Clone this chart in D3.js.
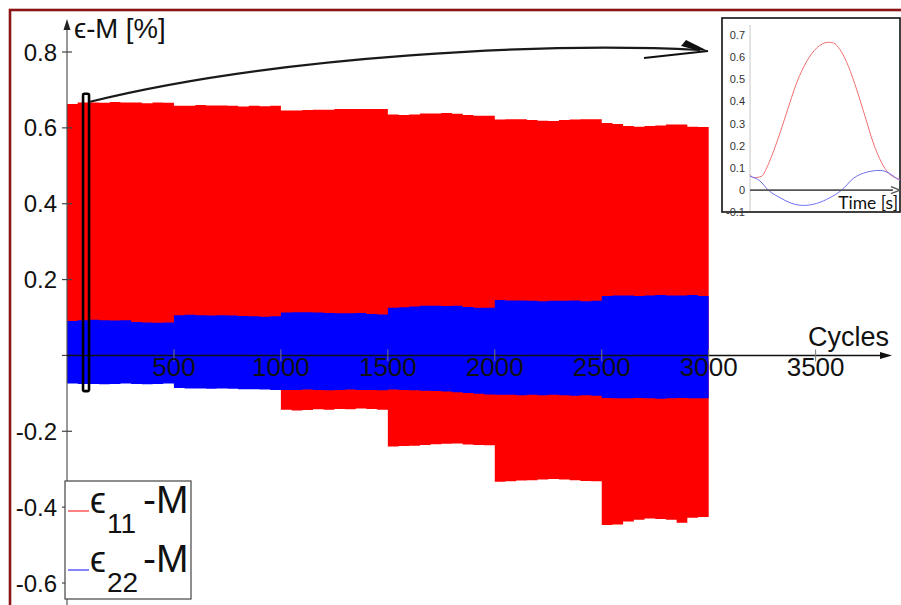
<!DOCTYPE html>
<html><head><meta charset="utf-8">
<script src="https://cdn.jsdelivr.net/npm/d3@7"></script>
<style>
html,body{margin:0;padding:0;background:#fff;}
svg{display:block;font-family:"Liberation Sans",Arial,Helvetica,sans-serif;}
</style></head>
<body>
<svg id="chart" width="901" height="605"></svg>
<script>
// ---------- data ----------
const cycleStep = 50;
const cycles = d3.range(0, 3001, cycleStep);
const eps11Max = [
 0.663,0.667,0.667,0.666,0.668,0.667,0.667,0.665,0.667,0.666,
 0.658,0.658,0.660,0.659,0.659,0.658,0.656,0.658,0.657,0.658,
 0.646,0.646,0.647,0.648,0.648,0.650,0.650,0.650,0.650,0.650,
 0.635,0.634,0.635,0.638,0.638,0.639,0.637,0.634,0.632,0.632,
 0.622,0.623,0.623,0.621,0.619,0.618,0.621,0.622,0.623,0.623,
 0.613,0.610,0.605,0.603,0.605,0.606,0.609,0.609,0.603,0.602,0.605];
const eps11Min = [
 -0.069,-0.070,-0.070,-0.071,-0.070,-0.069,-0.070,-0.071,-0.070,-0.070,
 -0.082,-0.083,-0.082,-0.083,-0.084,-0.083,-0.084,-0.085,-0.085,-0.086,
 -0.143,-0.145,-0.144,-0.142,-0.143,-0.141,-0.142,-0.140,-0.141,-0.143,
 -0.240,-0.239,-0.238,-0.236,-0.234,-0.233,-0.232,-0.235,-0.236,-0.237,
 -0.333,-0.332,-0.330,-0.329,-0.327,-0.326,-0.327,-0.329,-0.331,-0.332,
 -0.447,-0.446,-0.438,-0.433,-0.430,-0.431,-0.433,-0.441,-0.428,-0.426,-0.425];
const eps22Max = [
 0.091,0.093,0.094,0.093,0.092,0.093,0.088,0.087,0.086,0.087,
 0.106,0.107,0.106,0.105,0.106,0.105,0.104,0.103,0.102,0.103,
 0.113,0.114,0.114,0.113,0.112,0.111,0.111,0.112,0.109,0.108,
 0.126,0.127,0.129,0.131,0.131,0.130,0.131,0.128,0.126,0.126,
 0.146,0.145,0.145,0.144,0.143,0.144,0.144,0.145,0.143,0.144,
 0.157,0.158,0.158,0.157,0.158,0.159,0.158,0.158,0.159,0.157,0.157];
const eps22Min = [
 -0.074,-0.075,-0.075,-0.076,-0.075,-0.074,-0.075,-0.076,-0.075,-0.074,
 -0.086,-0.087,-0.087,-0.088,-0.087,-0.088,-0.089,-0.089,-0.090,-0.091,
 -0.091,-0.091,-0.090,-0.091,-0.092,-0.091,-0.090,-0.091,-0.091,-0.092,
 -0.090,-0.091,-0.092,-0.093,-0.094,-0.095,-0.097,-0.099,-0.101,-0.103,
 -0.104,-0.104,-0.105,-0.104,-0.105,-0.104,-0.105,-0.106,-0.105,-0.106,
 -0.112,-0.113,-0.113,-0.112,-0.113,-0.114,-0.113,-0.112,-0.113,-0.113,-0.113];

const xTicks = [500,1000,1500,2000,2500,3000,3500];
const yTicks = [0.8,0.6,0.4,0.2,0,-0.2,-0.4,-0.6];
const yTickLabels = ["0.8","0.6","0.4","0.2","","-0.2","-0.4","-0.6"];

// zoomed single cycle (inset)
const insetTime = [0,0.022,0.078,0.111,0.144,0.2,0.244,0.311,0.378,0.444,0.522,0.556,0.6,0.656,0.711,0.767,0.822,0.878,0.922,0.978,1.0];
const insetEps11 = [0.070,0.056,0.063,0.100,0.153,0.258,0.349,0.484,0.581,0.641,0.667,0.664,0.634,0.559,0.454,0.333,0.213,0.123,0.078,0.053,0.048];
const insetTime22 = [0,0.067,0.122,0.2,0.267,0.356,0.444,0.533,0.611,0.689,0.778,0.867,0.9,0.944,0.989,1.0];
const insetEps22 = [0.063,0.041,0,-0.034,-0.057,-0.069,-0.060,-0.034,0,0.053,0.081,0.089,0.085,0.070,0.048,0.045];
const insetYTicks = [0.7,0.6,0.5,0.4,0.3,0.2,0.1,0,-0.1];

const zoomCycles = [75,103];
const zoomStrain = [0.69,-0.094];

// ---------- drawing ----------
const svg = d3.select("#chart");
const x = d3.scaleLinear().domain([0,3850]).range([67,890.5]);
const y = d3.scaleLinear().domain([0.8,-0.6]).range([52,583]);

// frame
svg.append("rect").attr("x",10).attr("y",10).attr("width",900).attr("height",600)
  .attr("fill","#fff").attr("stroke","#8c1414").attr("stroke-width",2.6);

const rows = cycles.map((c,i)=>({c, a:eps11Max[i], b:eps11Min[i], p:eps22Max[i], q:eps22Min[i]}));
const area11 = d3.area().curve(d3.curveStepAfter).x(d=>x(d.c)).y0(d=>y(d.b)).y1(d=>y(d.a));
const area22 = d3.area().curve(d3.curveStepAfter).x(d=>x(d.c)).y0(d=>y(d.q)).y1(d=>y(d.p));
svg.append("path").datum(rows).attr("d",area11).attr("fill","#ff0000");
svg.append("path").datum(rows).attr("d",area22).attr("fill","#0000ff");

// y axis
const y0 = y(0);
svg.append("line").attr("x1",x(0)).attr("x2",x(0)).attr("y1",610).attr("y2",26)
  .attr("stroke","#555").attr("stroke-width",1.2);
svg.append("path").attr("d",`M${x(0)},19 L${x(0)-3.5},30 L${x(0)+3.5},30 Z`).attr("fill","#222");
yTicks.forEach((t,i)=>{
  svg.append("line").attr("x1",x(0)-5).attr("x2",x(0)+5).attr("y1",y(t)).attr("y2",y(t))
    .attr("stroke","#444").attr("stroke-width",1.2);
  if(yTickLabels[i]) svg.append("text").attr("x",57).attr("y",y(t)).attr("dy","0.36em")
    .attr("text-anchor","end").attr("font-size",24).attr("fill","#111").text(yTickLabels[i]);
});
svg.append("text").attr("x",74).attr("y",38).attr("font-size",27.5).attr("fill","#111").text("ϵ-M [%]");

// x axis
svg.append("line").attr("x1",x(0)).attr("x2",884).attr("y1",y0).attr("y2",y0)
  .attr("stroke","#111").attr("stroke-width",1.4);
svg.append("path").attr("d",`M892,${y0} L880,${y0-3.5} L880,${y0+3.5} Z`).attr("fill","#111");
xTicks.forEach(t=>{
  svg.append("line").attr("x1",x(t)).attr("x2",x(t)).attr("y1",y0-6).attr("y2",y0+6)
    .attr("stroke","#777").attr("stroke-width",1);
  svg.append("text").attr("x",x(t)).attr("y",376).attr("text-anchor","middle")
    .attr("font-size",26).attr("fill","#111").text(t);
});
svg.append("text").attr("x",889).attr("y",346).attr("text-anchor","end")
  .attr("font-size",27).attr("fill","#111").text("Cycles");

// highlight rectangle
const hx0 = x(zoomCycles[0]), hx1 = x(zoomCycles[1]);
const hy0 = y(zoomStrain[0]), hy1 = y(zoomStrain[1]);
svg.append("rect").attr("x",hx0).attr("y",hy0).attr("width",hx1-hx0).attr("height",hy1-hy0)
  .attr("rx",1.5).attr("fill","none").attr("stroke","#000").attr("stroke-width",2.6);

// inset
const ix = d3.scaleLinear().domain([0,1]).range([750,900]);
const iy = d3.scaleLinear().domain([0.7,-0.1]).range([35,212.3]);
svg.append("rect").attr("x",722).attr("y",18).attr("width",178).attr("height",194)
  .attr("fill","#fff").attr("stroke","#111").attr("stroke-width",1.6);
svg.append("line").attr("x1",750).attr("x2",750).attr("y1",25).attr("y2",211)
  .attr("stroke","#c8c8c8").attr("stroke-width",1);
insetYTicks.forEach(t=>{
  svg.append("text").attr("x",745).attr("y",iy(t)).attr("dy","0.36em").attr("text-anchor","end")
    .attr("font-size",11).attr("fill","#333").text(t);
});
const lineI = d3.line().curve(d3.curveMonotoneX);
svg.append("path").attr("d",lineI(insetTime.map((t,i)=>[ix(t),iy(insetEps11[i])])))
  .attr("fill","none").attr("stroke","#f07070").attr("stroke-width",1);
svg.append("path").attr("d",lineI(insetTime22.map((t,i)=>[ix(t),iy(insetEps22[i])])))
  .attr("fill","none").attr("stroke","#7070f0").attr("stroke-width",1);
svg.append("line").attr("x1",750).attr("x2",893).attr("y1",iy(0)).attr("y2",iy(0))
  .attr("stroke","#555").attr("stroke-width",1.6);
svg.append("path").attr("d",`M900,${iy(0)} L891,${iy(0)-3.5} M900,${iy(0)} L891,${iy(0)+3.5}`)
  .attr("stroke","#555").attr("stroke-width",1.4).attr("fill","none");
svg.append("text").attr("x",898).attr("y",209).attr("text-anchor","end")
  .attr("font-family","Lato, 'Open Sans', sans-serif").attr("font-size",17.5).attr("fill","#111").text("Time [s]");

// curved arrow to inset
const ax0 = hx1+1, ay0 = hy0+8;
svg.append("path").attr("d",`M${ax0},${ay0} C280,55 550,42 700,50`)
  .attr("fill","none").attr("stroke","#1a1a1a").attr("stroke-width",2.2);
svg.append("path").attr("d","M708,51 L686,40 L681,46 L696,50 Z").attr("fill","#111");
svg.append("path").attr("d","M708,51 L644,58").attr("stroke","#111").attr("stroke-width",2.2).attr("fill","none");

// legend
const lg = svg.append("g");
lg.append("rect").attr("x",65).attr("y",481).attr("width",126).attr("height",118)
  .attr("fill","#fff").attr("stroke","#444").attr("stroke-width",1.2);
const legendItems = [
  {sub:"11", color:"#ff3030", base:513, subBase:533},
  {sub:"22", color:"#3030ff", base:572, subBase:592}
];
legendItems.forEach(it=>{
  lg.append("line").attr("x1",68).attr("x2",89).attr("y1",it.base-2).attr("y2",it.base-2)
    .attr("stroke",it.color).attr("stroke-width",1.2);
  lg.append("text").attr("x",90).attr("y",it.base).attr("font-size",36).attr("fill","#111").text("ϵ");
  lg.append("text").attr("x",107).attr("y",it.subBase).attr("font-size",28).attr("fill","#111").text(it.sub);
  lg.append("text").attr("x",143).attr("y",it.base).attr("font-size",39).attr("fill","#111").text("-M");
});
</script>
</body></html>
